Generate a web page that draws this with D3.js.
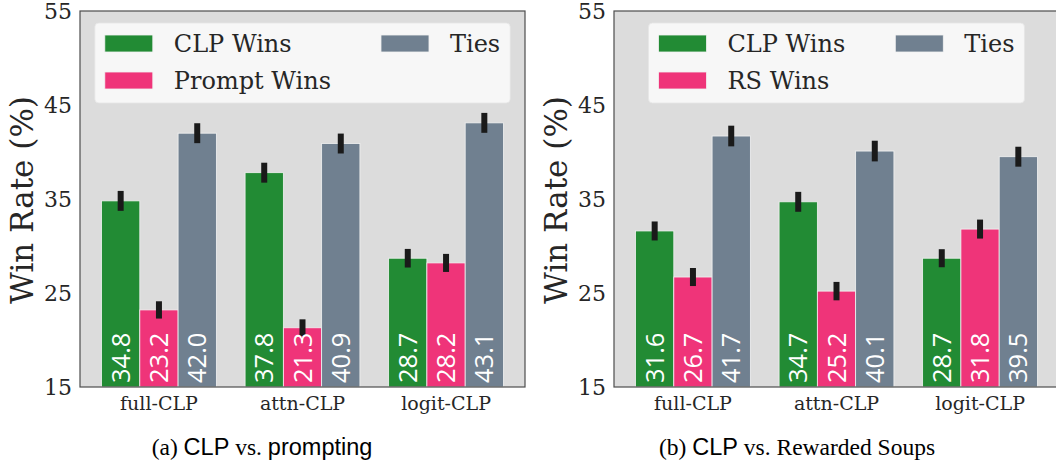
<!DOCTYPE html>
<meta charset="utf-8">
<script src="https://d3js.org/d3.v7.min.js"></script>
<style>
body { margin: 0; background: #fff; overflow: hidden; }
</style>
<body></body>
<script>
// categories and series
const categories = ["full-CLP", "attn-CLP", "logit-CLP"];
const yTicks = [15, 25, 35, 45, 55];
const colors = ["#228b34", "#ef3479", "#708090"];

// (a) CLP vs. prompting
const promptNames = ["CLP Wins", "Prompt Wins", "Ties"];
const promptClp = [34.8, 37.8, 28.7];
const promptOther = [23.2, 21.3, 28.2];
const promptTies = [42.0, 40.9, 43.1];
const promptClpErr = [1.06, 1.06, 0.99];
const promptOtherErr = [0.92, 0.9, 0.96];
const promptTiesErr = [1.06, 1.06, 1.06];

// (b) CLP vs. Rewarded Soups
const rsNames = ["CLP Wins", "RS Wins", "Ties"];
const rsClp = [31.6, 34.7, 28.7];
const rsOther = [26.7, 25.2, 31.8];
const rsTies = [41.7, 40.1, 39.5];
const rsClpErr = [1.01, 1.06, 0.96];
const rsOtherErr = [0.96, 0.98, 1.01];
const rsTiesErr = [1.1, 1.1, 1.06];

const W = 1056, H = 463;
const svg = d3.select("body").append("svg")
  .attr("width", W).attr("height", H);

const serif = "'DejaVu Serif', serif";

function panel(left, names, vals, errs, caption, capCenter) {
  const top = 11, bottom = 387, right = left + 445;
  const g = svg.append("g");

  const y = d3.scaleLinear().domain([15, 55]).range([bottom, top]);
  const x0 = d3.scaleBand().domain(categories).range([left, right])
    .paddingInner(0.2).paddingOuter(0.15);
  const x1 = d3.scaleBand().domain(d3.range(3)).range([0, x0.bandwidth()]);

  g.append("rect")
    .attr("x", left).attr("y", top)
    .attr("width", right - left).attr("height", bottom - top)
    .attr("fill", "#dcdcdc");

  // bars
  const rows = [];
  categories.forEach((c, i) => {
    vals.forEach((s, k) => rows.push({ c, k, v: s[i], e: errs[k][i] }));
  });

  g.selectAll(".bar").data(rows).enter().append("rect")
    .attr("x", d => x0(d.c) + x1(d.k))
    .attr("y", d => y(d.v))
    .attr("width", x1.bandwidth())
    .attr("height", d => bottom - y(d.v))
    .attr("fill", d => colors[d.k])
    .attr("stroke", "#f2f2f2")
    .attr("stroke-width", 0.8);

  // error bars
  g.selectAll(".err").data(rows).enter().append("line")
    .attr("x1", d => x0(d.c) + x1(d.k) + x1.bandwidth() / 2)
    .attr("x2", d => x0(d.c) + x1(d.k) + x1.bandwidth() / 2)
    .attr("y1", d => y(d.v - d.e))
    .attr("y2", d => y(d.v + d.e))
    .attr("stroke", "#1a1a1a")
    .attr("stroke-width", 6);

  // value labels
  g.selectAll(".val").data(rows).enter().append("text")
    .attr("transform", d => "translate(" + (x0(d.c) + x1(d.k) + x1.bandwidth() / 2 + 9) + "," + (bottom - 4) + ") rotate(-90)")
    .attr("fill", "#fff")
    .style("font-family", "'Open Sans', sans-serif")
    .style("font-size", "25.5px")
    .style("font-weight", 400)
    .text(d => d.v.toFixed(1));

  // frame
  g.append("rect")
    .attr("x", left).attr("y", top)
    .attr("width", right - left).attr("height", bottom - top)
    .attr("fill", "none").attr("stroke", "#4d4d4d").attr("stroke-width", 1.2);

  // y axis
  const ya = g.append("g").attr("transform", "translate(" + left + ",0)")
    .call(d3.axisLeft(y).tickValues(yTicks).tickSize(0).tickPadding(8));
  ya.select(".domain").remove();
  ya.selectAll("text").style("font-family", serif).style("font-size", "22px").attr("fill", "#262626");

  // x axis
  const xa = g.append("g").attr("transform", "translate(0," + bottom + ")")
    .call(d3.axisBottom(x0).tickSize(0).tickPadding(10));
  xa.select(".domain").remove();
  xa.selectAll("text").style("font-family", serif).style("font-size", "19px").attr("fill", "#262626");

  // y label
  g.append("text")
    .attr("transform", "translate(" + (left - 47) + ",200) rotate(-90)")
    .attr("text-anchor", "middle")
    .style("font-family", serif).style("font-size", "31px").attr("fill", "#262626")
    .text("Win Rate (%)");

  // legend
  const lg = g.append("g");
  const bg = lg.append("rect").attr("rx", 4)
    .attr("fill", "#f7f7f7").attr("stroke", "#e6e6e6").attr("stroke-width", 0.8);
  const items = lg.selectAll(".li").data(names).enter().append("g");
  items.append("rect").attr("width", 48).attr("height", 17)
    .attr("fill", (d, i) => colors[i]).attr("stroke", "#f2f2f2").attr("stroke-width", 0.8);
  const tx = items.append("text").attr("x", 69).attr("y", 17)
    .style("font-family", serif).style("font-size", "24px").attr("fill", "#262626")
    .text(d => d);
  const tw = tx.nodes().map(n => n.getComputedTextLength());
  const col1 = 69 + Math.max(tw[0], tw[1]);
  const col2 = 69 + tw[2];
  const pad = 10, gap = 50;
  const lw = pad + col1 + gap + col2 + pad;
  const lx = (left + right) / 2 - lw / 2, ly = 23;
  bg.attr("x", lx).attr("y", ly).attr("width", lw).attr("height", 80);
  const pos = [[pad, 12], [pad, 49], [pad + col1 + gap, 12]];
  items.attr("transform", (d, i) => "translate(" + (lx + pos[i][0]) + "," + (ly + pos[i][1]) + ")");

  // caption with mixed fonts
  const cap = svg.append("text").attr("x", capCenter).attr("y", 455)
    .attr("text-anchor", "middle").style("font-size", "23.5px").attr("fill", "#000");
  caption.forEach(p => cap.append("tspan")
    .style("font-family", p[1] ? "'Liberation Sans', sans-serif" : "'Liberation Serif', serif")
    .text(p[0]));
}

panel(80, promptNames, [promptClp, promptOther, promptTies],
  [promptClpErr, promptOtherErr, promptTiesErr],
  [["(a) ", 0], ["CLP", 1], [" vs. ", 0], ["prompting", 1]], 262);
panel(614, rsNames, [rsClp, rsOther, rsTies],
  [rsClpErr, rsOtherErr, rsTiesErr],
  [["(b) ", 0], ["CLP", 1], [" vs. Rewarded Soups", 0]], 797);
</script>
